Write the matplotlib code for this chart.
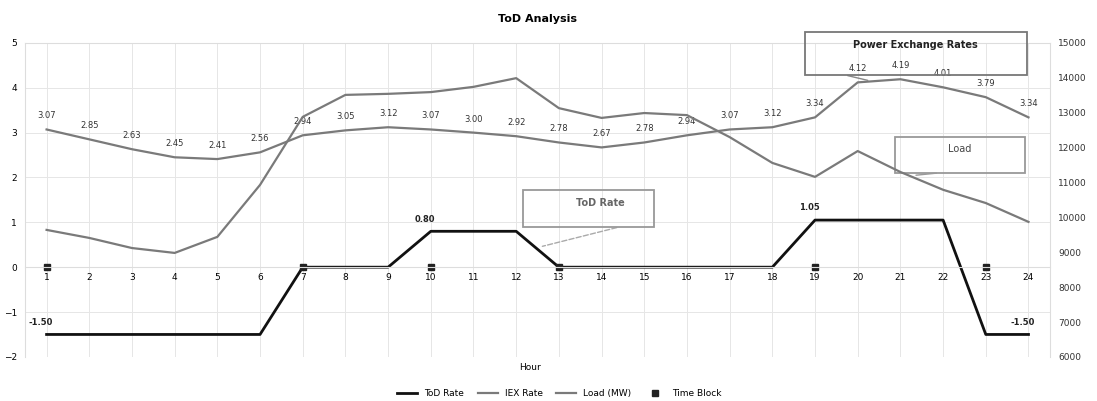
import matplotlib.pyplot as plt
from matplotlib.patches import Rectangle

hours = list(range(1, 25))
tod_rate = [-1.5] * 6 + [0, 0, 0] + [0.8, 0.8, 0.8] + [0] * 6 + [1.05] * 4 + [-1.5, -1.5]
exchange = [3.07, 2.85, 2.63, 2.45, 2.41, 2.56, 2.94, 3.05, 3.12, 3.07, 3.00, 2.92,
            2.78, 2.67, 2.78, 2.94, 3.07, 3.12, 3.34, 4.12, 4.19, 4.01, 3.79, 3.34]
load = [9640, 9410, 9120, 8980, 9440, 10930, 12880, 13510, 13540, 13590, 13740, 13990,
        13130, 12850, 12990, 12930, 12300, 11560, 11160, 11900, 11300, 10790, 10410, 9870]
block_starts = [1, 7, 10, 13, 19, 23]
block_marks = [0] * len(block_starts)
tod_labels = {1: "-1.50", 10: "0.80", 19: "1.05", 24: "-1.50"}

fig, ax = plt.subplots(figsize=(10.97, 4.01), dpi=100)
fig.subplots_adjust(left=0.023, right=0.957, top=0.893, bottom=0.110)
ax2 = ax.twinx()

ax.set_xlim(0.5, 24.5)
ax.set_ylim(-2, 5)
ax.set_yticks(range(-2, 6))
ax2.set_ylim(6000, 15000)
ax2.set_yticks(range(6000, 15001, 1000))

ax.grid(True, color="#e6e6e6", linewidth=0.7)
ax.set_axisbelow(True)

l_ex, = ax.plot(hours, exchange, color="#7a7a7a", linewidth=1.6, label="IEX Rate")
l_tod, = ax.plot(hours, tod_rate, color="#111111", linewidth=2.0, label="ToD Rate")
l_mk, = ax.plot(block_starts, block_marks, linestyle="none", marker="s", markersize=4,
                color="#222222", label="Time Block")
l_load, = ax2.plot(hours, load, color="#7a7a7a", linewidth=1.6, label="Load (MW)")

for h, v in zip(hours, exchange):
    ax.annotate(f"{v:.2f}", (h, v), xytext=(0, 8), textcoords="offset points",
                ha="center", fontsize=6, color="#333333")
for h, txt in tod_labels.items():
    ax.annotate(txt, (h, tod_rate[h - 1]), xytext=(-4, 7), textcoords="offset points",
                ha="center", fontsize=6, color="#222222", fontweight="bold")

ax.spines["bottom"].set_position(("data", 0))
for sp in ax.spines.values():
    sp.set_color("#dddddd")
for sp in ax2.spines.values():
    sp.set_visible(False)
ax.set_xticks(hours)
ax.tick_params(axis="x", length=0, labelsize=6.5, pad=4)
ax.tick_params(axis="y", length=0, labelsize=6.5, pad=6)
ax2.tick_params(axis="y", length=0, labelsize=6.5, pad=6, labelcolor="#333333")

# annotation boxes (axes fraction)
def note_box(x0, y0, x1, y1, color):
    r = Rectangle((x0, y0), x1 - x0, y1 - y0, transform=ax.transAxes, fill=False,
                  ec=color, lw=1.3, clip_on=False, zorder=5)
    ax.add_patch(r)

note_box(0.761, 0.898, 0.978, 1.035, "#777777")
ax.text(0.869, 0.994, "Power Exchange Rates", transform=ax.transAxes, ha="center",
        va="center", fontsize=7, fontweight="bold", color="#222222")
ax.annotate("", xy=(20.3, 4.15), xytext=(0.80, 0.898), textcoords="axes fraction",
            arrowprops=dict(arrowstyle="-", color="#888888", lw=1))

note_box(0.849, 0.586, 0.976, 0.701, "#999999")
ax.text(0.912, 0.662, "Load", transform=ax.transAxes, ha="center", va="center",
        fontsize=7, color="#444444")
ax2.annotate("", xy=(21.3, 11200), xytext=(0.892, 0.586), textcoords="axes fraction",
             arrowprops=dict(arrowstyle="-", color="#999999", lw=1))

note_box(0.486, 0.414, 0.614, 0.532, "#999999")
ax.text(0.561, 0.49, "ToD Rate", transform=ax.transAxes, ha="center", va="center",
        fontsize=7, fontweight="bold", color="#666666")
ax.annotate("", xy=(12.55, 0.45), xytext=(0.58, 0.414), textcoords="axes fraction",
            arrowprops=dict(arrowstyle="-", color="#aaaaaa", lw=1, ls="--"))

ax.set_title("ToD Analysis", fontsize=8, fontweight="bold", pad=15)
fig.text(0.483, 0.078, "Hour", fontsize=6.5, ha="center")
fig.legend([l_tod, l_ex, l_load, l_mk], ["ToD Rate", "IEX Rate", "Load (MW)", "Time Block"],
           loc="lower center", bbox_to_anchor=(0.51, -0.012), ncol=4, frameon=False,
           fontsize=6.5, handlelength=2.2, columnspacing=1.5)

fig.savefig("out.png", dpi=100)
